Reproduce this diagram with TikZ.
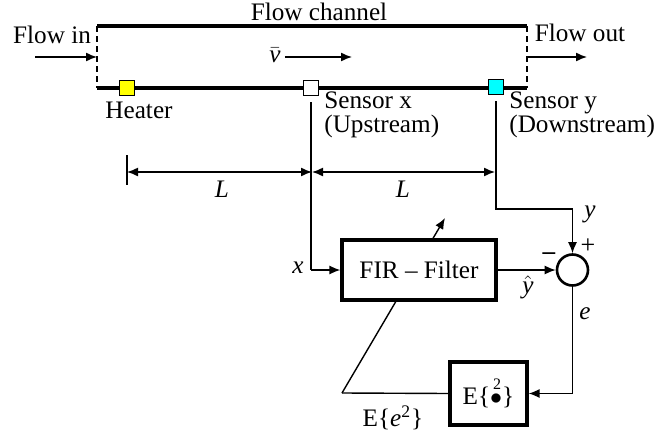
\documentclass[tikz,border=0pt]{standalone}
\usepackage{fontspec}
\setmainfont{Liberation Serif}
\usetikzlibrary{arrows.meta,positioning,calc}
\definecolor{heatcol}{RGB}{255,255,0}
\definecolor{sensycol}{RGB}{0,255,255}
\tikzset{wall/.style={line width=1.6pt,black},
  port/.style={line width=0.8pt,dash pattern=on 3pt off 2pt},
  sq/.style={draw,line width=0.6pt,minimum size=7.5pt,inner sep=0pt},
  blk/.style={draw,line width=1.6pt,fill=white,inner sep=0pt},
  sig/.style={-{Latex[length=5.5pt,width=4.5pt]},line width=0.7pt},
  dim/.style={{Latex[length=5.5pt,width=4.5pt]}-{Latex[length=5.5pt,width=4.5pt]},line width=0.7pt},
  lbl/.style={inner sep=0pt,align=left}}
\begin{document}
\begin{tikzpicture}[x=0.5pt,y=-0.5pt, every node/.style={font=\fontsize{12.6}{12}\selectfont}]
\useasboundingbox (0,0) rectangle (660,434);
\draw[wall] (97,26) -- (527,26);
\draw[wall] (97,88) -- (527,88);
\draw[port] (97,26) -- (97,88);
\draw[port] (527,26) -- (527,88);
\node[lbl] (chan) at (319,12) {Flow channel};
\node[lbl] (fin) at (52,35) {Flow in};
\node[lbl] (fout) at (580,33) {Flow out};
\coordinate (inL) at (35,57); \coordinate (inR) at (97,57);
\coordinate (outL) at (527,57); \coordinate (outR) at (587,57);
\draw[sig] (inL) -- (inR);
\draw[sig] (outL) -- (outR);
\node[lbl] (vel) at (275,55) {$\bar{\textit{v}}$};
\coordinate (velend) at (352,57);
\draw[sig] (vel.east)++(4,2) -- (velend);
\node[sq,fill=heatcol] (heat) at (127,88) {};
\node[sq,fill=white] (sensx) at (311,88) {};
\node[sq,fill=sensycol] (sensy) at (496,87) {};
\node[lbl] (heatlbl) at (139,110) {Heater};
\node[lbl,anchor=west] (sxlbl) at (324,115) {Sensor x\\[0pt](Upstream)};
\node[lbl,anchor=west] (sylbl) at (509,115) {Sensor y\\[0pt](Downstream)};
\coordinate (dimA) at (127,172); \coordinate (dimB) at (312,172); \coordinate (dimC) at (495,172);
\draw[line width=0.7pt] (127,155) -- (127,185);
\draw[dim] (dimA) -- (dimB);
\draw[dim] (dimB) -- (dimC);
\node[lbl] (L1) at (222,189) {\textit{L}};
\node[lbl] (L2) at (403,189) {\textit{L}};
\node[blk,minimum width=38.5pt,minimum height=31.5pt] (ebox) at (488.5,393.5) {E\{\rlap{\raisebox{1.3ex}{\hspace{0.12em}\fontsize{8}{8}\selectfont 2}}$\bullet$\}};
\coordinate (fb) at (342,393); \coordinate (adapt) at (445,218);
\draw[line width=0.7pt] (ebox.west) -- (fb);
\draw[sig] (fb) -- (adapt);
\node[blk,minimum width=77pt,minimum height=30pt] (fir) at (419,270) {FIR -- Filter};
\node[draw,circle,line width=1.3pt,minimum size=15.5pt,inner sep=0pt] (sum) at (572.5,270) {};
\coordinate (ycorner) at (572.5,209);
\draw[line width=0.7pt,shorten <=3pt] (sensx.south) -- (sensx.south |- fir.west);
\draw[sig] (sensx.south |- fir.west) -- (fir.west);
\draw[line width=0.7pt,shorten <=3pt] (sensy.south) |- (ycorner);
\draw[sig] (ycorner) -- (sum.north);
\draw[sig] (fir.east) -- (sum.west);
\draw[sig] (sum.south) |- (ebox.east);
\node[lbl] (xlbl) at (298,268) {\textit{x}};
\node[lbl] (ylbl) at (590,214) {\textit{y}};
\node[lbl] (yhat) at (528,287) {$\hat{\textit{y}}$};
\node[lbl] (minus) at (549,256) {\textbf{--}};
\node[lbl] (plus) at (588,246) {\fontsize{13}{13}\selectfont +};
\node[lbl] (elbl) at (585,314) {\textit{e}};
\node[lbl] (esq) at (393,418) {E\{\textit{e}\textsuperscript{2}\}};
\end{tikzpicture}
\end{document}
